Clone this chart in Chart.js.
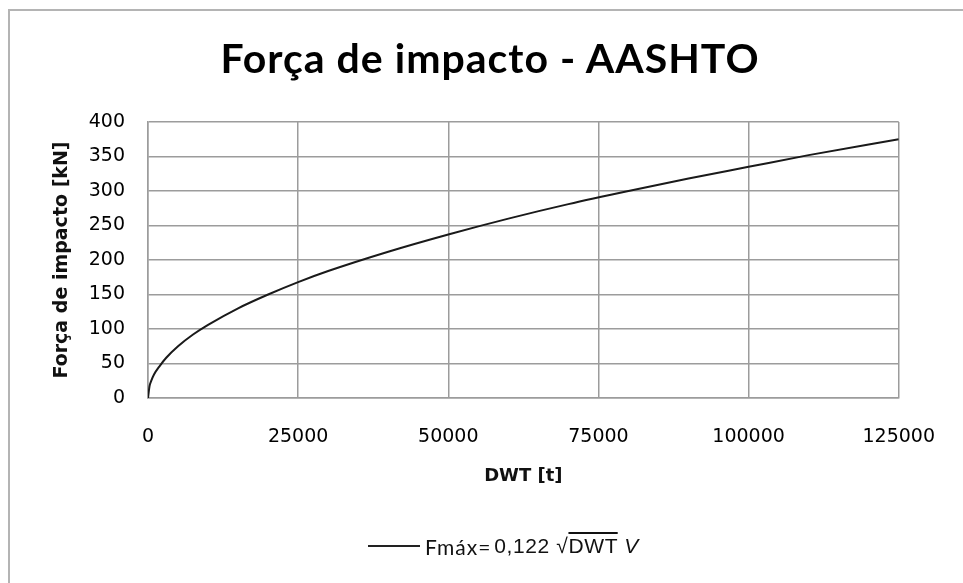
<!DOCTYPE html>
<html lang="pt-br">
<head>
    <meta charset="utf-8">
    <title>Força de impacto - AASHTO</title>
    <script src="https://cdn.jsdelivr.net/npm/chart.js"></script>
    <style>
        html, body { margin: 0; padding: 0; background: #fff; overflow: hidden; }
        #quadro { position: relative; width: 963px; height: 583px; overflow: hidden; }
        #moldura {
            position: absolute; left: 8px; top: 9px; width: 1000px; height: 1000px;
            border: 2px solid #b4b4b4; box-sizing: border-box;
        }
        #grafico { position: absolute; left: 0; top: 0; }
        #titulo {
            position: absolute; left: 0; top: 35px; width: 980px; text-align: center;
            font-family: Lato, sans-serif; font-weight: bold; font-size: 41px; line-height: 46px;
            letter-spacing: 1px; color: #000;
        }
        #legenda {
            position: absolute; left: 368px; top: 533px; height: 26px; display: flex; align-items: center;
            color: #111; white-space: nowrap;
        }
        #legenda .traco { display: inline-block; width: 52px; height: 2px; background: #222; margin-right: 5px; }
        #legenda .fmax { font-family: Lato, sans-serif; font-size: 21px; letter-spacing: 1px; }
        #legenda .expr { font-family: "Liberation Sans", Arial, sans-serif; font-size: 21px; margin-left: 3px; letter-spacing: 0.6px; }
        #legenda .raiz { text-decoration: overline; }
    </style>
</head>
<body>
    <div id="quadro">
        <div id="moldura"></div>
        <canvas id="grafico" width="963" height="583"></canvas>
        <div id="titulo">Força de impacto - AASHTO</div>
        <div id="legenda">
            <span class="traco"></span><span class="fmax">Fmáx=</span><span class="expr">0,122 √<span class="raiz">DWT</span> <i>V</i></span>
        </div>
    </div>

    <script>
        // DWT [t] e força [kN]
        let dwt = [0, 250, 500, 1000, 2000, 3000, 5000, 7500, 10000, 15000, 20000, 25000, 30000, 40000, 50000, 60000, 70000, 80000, 90000, 100000, 110000, 125000];
        let forca = [0, 17, 24, 34, 47, 58, 75, 92, 106, 130, 150, 168, 184, 212, 237, 260, 281, 300, 318, 335, 352, 375];

        let ticksX = [0, 25000, 50000, 75000, 100000, 125000];
        let ticksY = [0, 50, 100, 150, 200, 250, 300, 350, 400];

        let corGrade = "#9c9c9c";
        let fonteTicks = { family: "DejaVu Sans", size: 19 };

        let pontos = dwt.map((x, i) => ({ x: x, y: forca[i] }));

        new Chart(document.getElementById("grafico"), {
            type: "line",
            data: {
                datasets: [{
                    label: "Fmáx = 0,122 √DWT V",
                    data: pontos,
                    borderColor: "#1a1a1a",
                    borderWidth: 2,
                    pointRadius: 0,
                    fill: false,
                    cubicInterpolationMode: "monotone"
                }]
            },
            options: {
                responsive: false,
                devicePixelRatio: 1,
                animation: false,
                layout: { padding: { top: 122, right: 62, bottom: 85, left: 0 } },
                plugins: {
                    legend: { display: false },
                    title: { display: false },
                    tooltip: { enabled: false }
                },
                scales: {
                    x: {
                        type: "linear",
                        min: 0,
                        max: 125000,
                        afterBuildTicks: s => { s.ticks = ticksX.map(v => ({ value: v })); },
                        afterFit: s => { s.height = 100; },
                        ticks: {
                            color: "#000",
                            font: fonteTicks,
                            padding: 28,
                            maxRotation: 0,
                            autoSkip: false,
                            callback: v => String(v)
                        },
                        grid: { color: corGrade, lineWidth: 1.5, drawTicks: false },
                        border: { color: corGrade, width: 1.5 },
                        title: {
                            display: true,
                            text: "DWT [t]",
                            color: "#111",
                            font: { family: "DejaVu Sans", size: 18, weight: "bold" },
                            padding: { top: 0, bottom: 11 }
                        }
                    },
                    y: {
                        min: 0,
                        max: 400,
                        afterBuildTicks: s => { s.ticks = ticksY.map(v => ({ value: v })); },
                        afterFit: s => { s.width = 148; },
                        ticks: {
                            color: "#000",
                            font: fonteTicks,
                            padding: 23
                        },
                        grid: { color: corGrade, lineWidth: 1.5, drawTicks: false },
                        border: { color: corGrade, width: 1.5 },
                        title: {
                            display: true,
                            text: "Força de impacto [kN]",
                            color: "#111",
                            font: { family: "DejaVu Sans", size: 19, weight: "bold" },
                            padding: { top: 51, bottom: 0 }
                        }
                    }
                }
            }
        });
    </script>
</body>
</html>
